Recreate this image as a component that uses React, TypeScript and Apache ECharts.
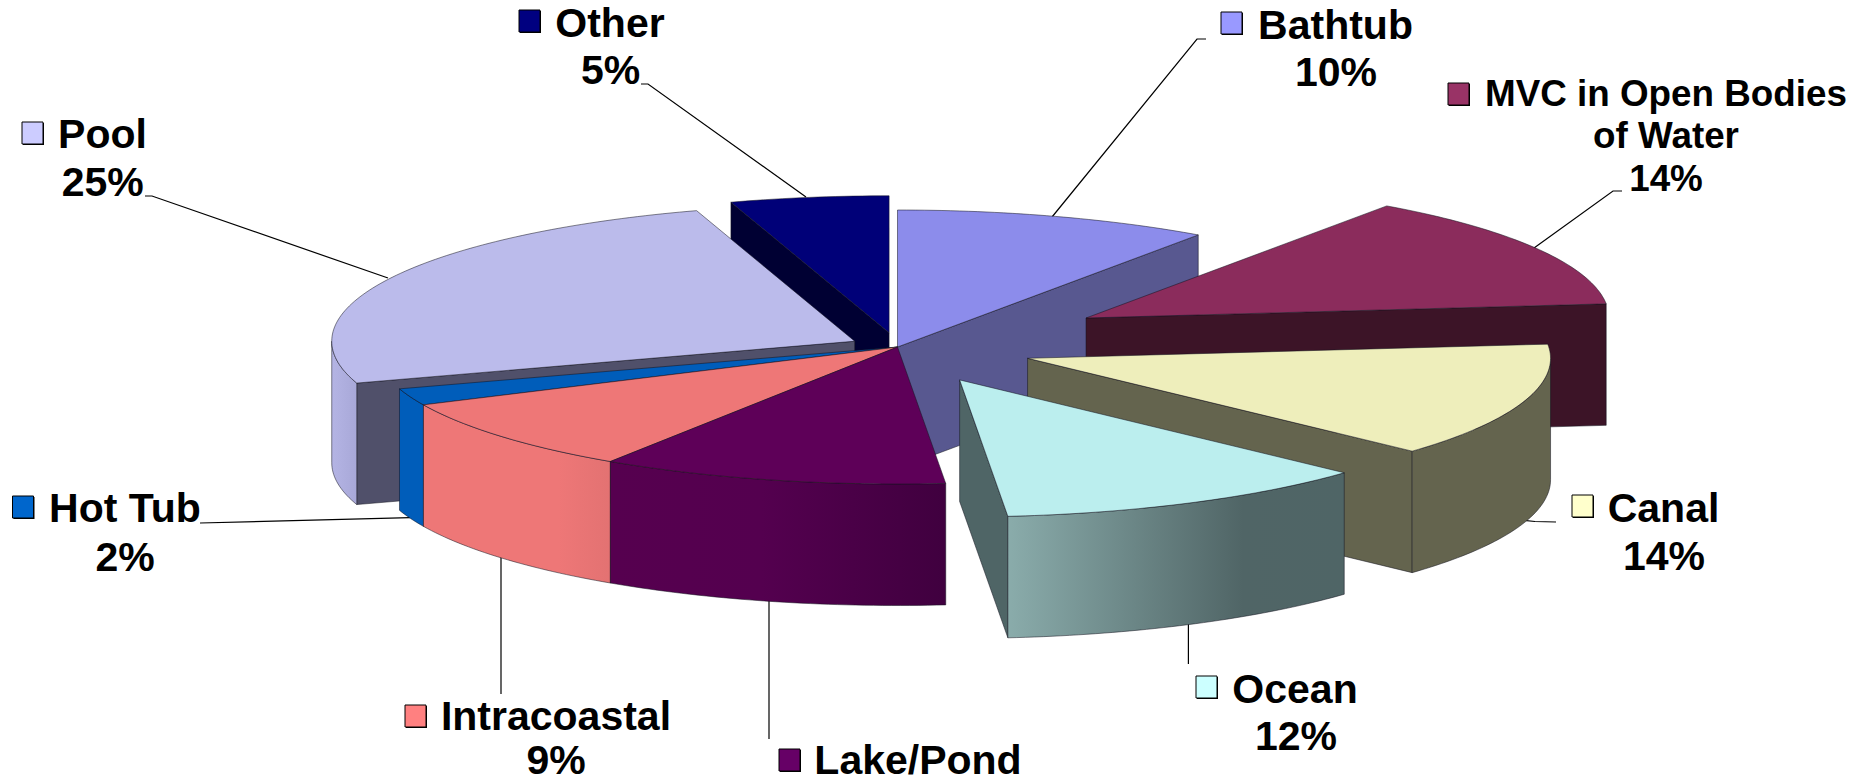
import React, { useEffect, useRef } from "react";
import * as echarts from "echarts";

// ---- data, clockwise from 12 o'clock ----
const categories = ["Bathtub", "MVC in Open Bodies of Water", "Canal", "Ocean", "Lake/Pond", "Intracoastal", "Hot Tub", "Pool", "Other"];
const shares = [9.75, 13.6, 13.5, 11.68, 10.72, 8.81, 2.0, 25.05, 4.89];

// ---- layout and style ----
const W = 1869, H = 784;
const CX = 897.5, CY = 347, RX = 523, RY = 137, DEPTH = 121.5;
const explode = [0, 0.418, 0.262, 0.268, 0, 0, 0, 0.092, 0.105];
const drawOrder = [8, 0, 1, 2, 3, 7, 6, 5, 4];
const topFill = ["#8c8ceb", "#8b2c5c", "#eeeebb", "#bbeeee", "#5e0058", "#ee7777", "#005dba", "#bbbbeb", "#000078"];
const faceFill = ["#585890", "#3c1427", "#64644e", "#4f6566", "#54004f", "#ee7777", "#005dba", "#50506a", "#000033"];
const wallStops: [number, string][][] = [
  [[0, "#585890"], [1, "#585890"]],
  [[0, "#3c1427"], [1, "#3c1427"]],
  [[0, "#64644e"], [1, "#64644e"]],
  [[0, "#8aacab"], [0.7, "#506566"], [1, "#4f6566"]],
  [[0, "#56004f"], [0.45, "#54004f"], [1, "#40003f"]],
  [[0, "#ee7777"], [0.72, "#ee7777"], [1, "#e37272"]],
  [[0, "#005dba"], [1, "#005dba"]],
  [[0, "#b4b4e4"], [1, "#a8a8d8"]],
  [[0, "#000033"], [1, "#000033"]],
];
const keyFill = ["#9999ff", "#993366", "#ffffcc", "#ccffff", "#660066", "#ff8080", "#0066cc", "#ccccff", "#000080"];

// lines: [text, centreX, centreY, fontSize]; key: [x, y]; leader: polyline
const labelLines: [string, number, number, number][][] = [
  [["Bathtub", 1335.5, 25, 41], ["10%", 1336, 72, 41]],
  [["MVC in Open Bodies", 1666, 93, 36.8], ["of Water", 1666, 135, 36.8], ["14%", 1666, 178, 36.8]],
  [["Canal", 1663.5, 507.5, 41], ["14%", 1664, 556, 41]],
  [["Ocean", 1295, 689, 41], ["12%", 1296, 736, 41]],
  [["Lake/Pond", 918, 760, 41]],
  [["Intracoastal", 556, 716, 41], ["9%", 556, 760, 41]],
  [["Hot Tub", 125, 508, 41], ["2%", 125, 557, 41]],
  [["Pool", 102.5, 134, 41], ["25%", 102.7, 182, 41]],
  [["Other", 610, 23, 41], ["5%", 610.6, 70, 41]],
];
const keyPos: [number, number][] = [[1221, 12], [1448, 83], [1572, 495], [1196, 676], [779, 749], [405, 705], [12.5, 496], [22, 122], [519, 10]];
const leaders: [number, number][][] = [
  [[1206, 39], [1197, 39], [1052, 217]],
  [[1622, 191], [1613, 191], [1534, 248]],
  [[1521, 520], [1535, 521.5], [1556, 522]],
  [[1188.4, 622], [1188.4, 664]],
  [[769, 600], [769, 739]],
  [[501, 557], [501, 694]],
  [[200, 523], [410, 517.7]],
  [[145, 196], [152, 196], [388, 278]],
  [[641, 84], [648, 84], [806, 197]],
];

const total = shares.reduce((a, b) => a + b, 0);
const rad = (d: number) => (d * Math.PI) / 180;
const spans = shares.map((_, i) => {
  const before = shares.slice(0, i).reduce((a, b) => a + b, 0);
  return [(before / total) * 360, ((before + shares[i]) / total) * 360];
});

function renderSlice(_params: any, api: any) {
  const i = api.value(0) as number;
  const [a0, a1] = spans[i];
  const mid = rad((a0 + a1) / 2);
  const ox = CX + explode[i] * RX * Math.sin(mid);
  const oy = CY - explode[i] * RY * Math.cos(mid);
  const at = (d: number, dz = 0): number[] => [ox + RX * Math.sin(rad(d)), oy - RY * Math.cos(rad(d)) + dz];
  const arc = (from: number, to: number, dz = 0) => {
    const pts: number[][] = [];
    const n = Math.max(2, Math.ceil(to - from));
    for (let k = 0; k <= n; k++) pts.push(at(from + ((to - from) * k) / n, dz));
    return pts;
  };
  const edge = { stroke: "rgba(20,20,30,0.65)", lineWidth: 0.8, lineJoin: "round" };
  const face = (d: number) => ({
    type: "polygon",
    shape: { points: [[ox, oy], at(d), at(d, DEPTH), [ox, oy + DEPTH]] },
    style: { fill: faceFill[i], ...edge },
  });
  const children: any[] = [];
  // a radial cut is seen only when it turns towards the viewer
  if (Math.sin(rad(a0)) < -1e-6) children.push(face(a0));
  if (Math.sin(rad(a1)) > 1e-6) children.push(face(a1));
  const w0 = Math.max(a0, 90), w1 = Math.min(a1, 270);
  if (w1 > w0) {
    children.push({
      type: "polygon",
      shape: { points: [...arc(w0, w1), ...arc(w0, w1, DEPTH).reverse()] },
      style: {
        fill: new echarts.graphic.LinearGradient(0, 0, 1, 0, wallStops[i].map(([offset, color]) => ({ offset, color }))),
        ...edge,
      },
    });
  }
  children.push({
    type: "polygon",
    shape: { points: [[ox, oy], ...arc(a0, a1)] },
    style: { fill: topFill[i], ...edge },
  });
  return { type: "group", children };
}

function labelGraphics() {
  const out: any[] = [];
  categories.forEach((_, i) => {
    out.push({
      type: "polyline", silent: true,
      shape: { points: leaders[i] },
      style: { stroke: "#000", lineWidth: 1.2, fill: "none" },
    });
    const [kx, ky] = keyPos[i];
    out.push({ type: "rect", shape: { x: kx + 1, y: ky + 1, width: 21, height: 22 }, style: { fill: "#000" } });
    out.push({ type: "rect", shape: { x: kx, y: ky, width: 21, height: 22 }, style: { fill: keyFill[i], stroke: "#000", lineWidth: 1 } });
    labelLines[i].forEach(([text, x, y, size]) => {
      out.push({
        type: "text", x, y,
        style: {
          text, fill: "#000", align: "center", verticalAlign: "middle", lineHeight: 34,
          font: `bold ${size}px "Liberation Sans", Arial, sans-serif`,
        },
      });
    });
  });
  return out;
}

export default function App() {
  const ref = useRef<HTMLDivElement>(null);
  useEffect(() => {
    const chart = echarts.init(ref.current!, undefined, { renderer: "svg" });
    chart.setOption({
      animation: false,
      backgroundColor: "#ffffff",
      graphic: { elements: labelGraphics() },
      series: [
        {
          type: "custom",
          coordinateSystem: "none",
          renderItem: renderSlice,
          data: drawOrder.map((i) => [i]),
          z: 1,
          silent: true,
        },
      ],
    });
    return () => chart.dispose();
  }, []);
  return <div ref={ref} style={{ position: "absolute", left: 0, top: 0, width: W, height: H }} />;
}
